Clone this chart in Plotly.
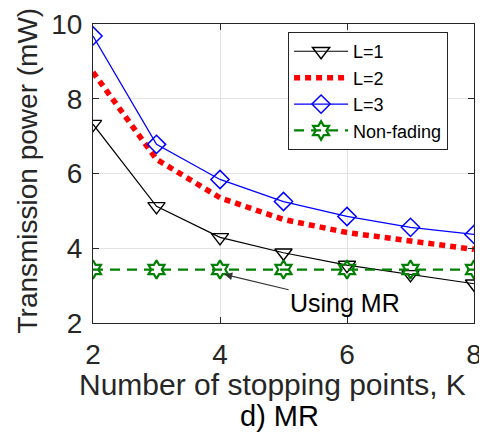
import plotly.graph_objects as go

K = [2, 3, 4, 5, 6, 7, 8]
L1 = [7.32, 5.12, 4.29, 3.88, 3.55, 3.30, 3.05]
L2 = [8.71, 6.38, 5.35, 4.77, 4.42, 4.18, 3.97]
L3 = [9.68, 6.78, 5.84, 5.25, 4.85, 4.56, 4.37]
NF = [3.43, 3.43, 3.43, 3.43, 3.43, 3.43, 3.43]

xticks = [2, 4, 6, 8]
yticks = [2, 4, 6, 8, 10]

FONT = "Liberation Sans, Arial, Helvetica, sans-serif"
AX = "#262626"

fig = go.Figure()
fig.add_trace(go.Scatter(x=K, y=L1, name="L=1", mode="lines+markers",
                         line=dict(color="black", width=1.2),
                         marker=dict(symbol="triangle-down-open", size=15, color="black",
                                     line=dict(width=1.4, color="black"))))
fig.add_trace(go.Scatter(x=K, y=L2, name="L=2", mode="lines",
                         line=dict(color="#ff0000", width=5.5, dash="6px,5px")))
fig.add_trace(go.Scatter(x=K, y=L3, name="L=3", mode="lines+markers",
                         line=dict(color="#0000ff", width=1.3),
                         marker=dict(symbol="diamond-open", size=14, color="#0000ff",
                                     line=dict(width=1.5, color="#0000ff"))))
fig.add_trace(go.Scatter(x=K, y=NF, name="Non-fading", mode="lines+markers",
                         line=dict(color="#008000", width=2.2, dash="10px,7px"),
                         marker=dict(symbol="hexagram-open", size=14, color="#008000",
                                     line=dict(width=2.2, color="#008000"))))

axis_common = dict(showline=True, linecolor=AX, linewidth=1, mirror="ticks",
                   ticks="inside", ticklen=6, tickcolor=AX, showgrid=True,
                   gridcolor="#e3e3e3", gridwidth=1, zeroline=False, automargin=False,
                   tickfont=dict(family=FONT, size=28, color=AX))

# page body adds an 8px offset, so the figure is 8px smaller with matching margins
fig.update_layout(
    width=479, height=426,
    margin=dict(l=85, r=13, t=16, b=111, autoexpand=False),
    paper_bgcolor="white", plot_bgcolor="white",
    showlegend=True,
    legend=dict(x=0.512, y=0.973, xanchor="left", yanchor="top",
                bgcolor="white", bordercolor=AX, borderwidth=1,
                font=dict(family=FONT, size=18, color="black"),
                itemwidth=54, tracegroupgap=0),
    xaxis=dict(range=[2, 8], tickvals=xticks, ticktext=[str(v) for v in xticks],
               ticklabelstandoff=6, **axis_common),
    yaxis=dict(range=[2, 10], tickvals=yticks, ticktext=[str(v) for v in yticks],
               ticklabelstandoff=4, **axis_common),
)

fig.add_annotation(text="Number of stopping points, K", xref="paper", yref="paper",
                   x=0.5, y=0, xshift=-11, yshift=-61, showarrow=False,
                   xanchor="center", yanchor="middle",
                   font=dict(family=FONT, size=30, color=AX))
fig.add_annotation(text="d) MR", xref="paper", yref="paper",
                   x=0.5, y=0, xshift=-4, yshift=-93, showarrow=False,
                   xanchor="center", yanchor="middle",
                   font=dict(family=FONT, size=29, color="black"))
fig.add_annotation(text="Transmission power (mW)", xref="paper", yref="paper",
                   x=0, y=0.5, xshift=-66, yshift=3, showarrow=False, textangle=-90,
                   xanchor="center", yanchor="middle",
                   font=dict(family=FONT, size=28, color=AX))
fig.add_annotation(text="Using MR", x=4.07, y=3.3, xref="x", yref="y",
                   ax=5.97, ay=2.53, axref="x", ayref="y",
                   showarrow=True, arrowhead=2, arrowsize=1.3, arrowwidth=1.2,
                   arrowcolor="#333333",
                   font=dict(family=FONT, size=25, color="black"))

fig.write_html("out.html")
